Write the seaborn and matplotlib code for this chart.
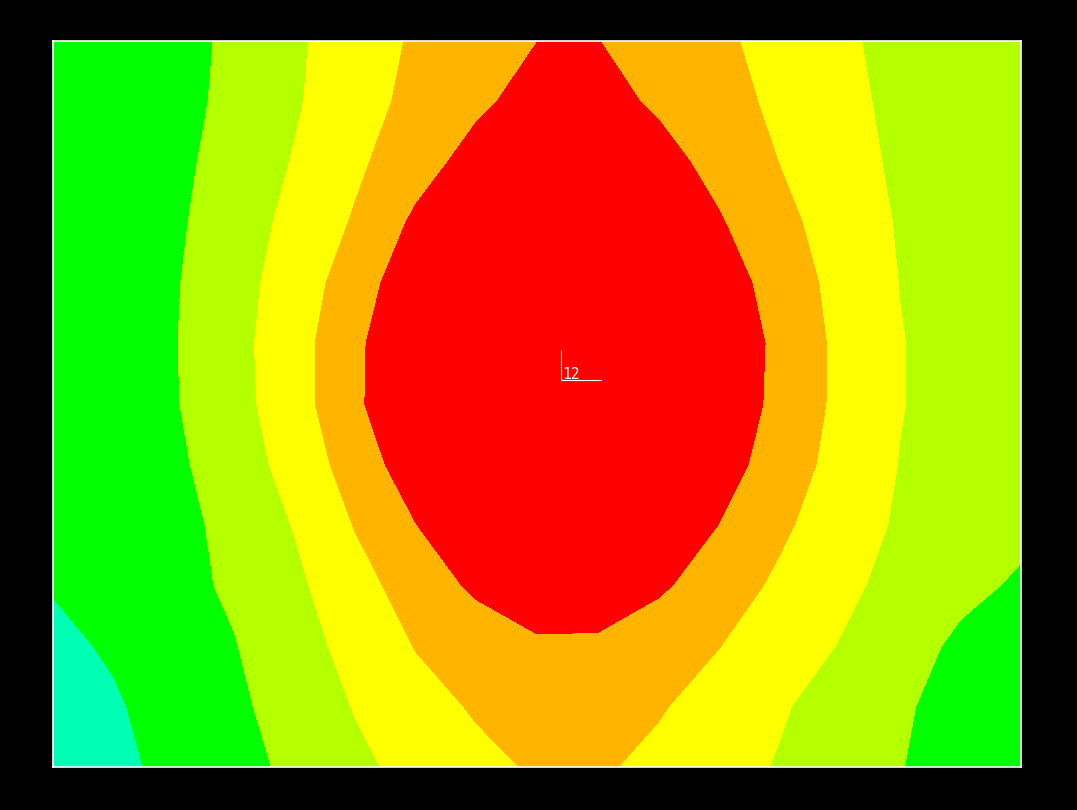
import numpy as np
import matplotlib
matplotlib.use("Agg")
import matplotlib.pyplot as plt
import seaborn as sns

# field values on a 17 x 13 grid (row 0 = top edge)
row_00 = [1.30, 1.45, 1.60, 2.22, 2.85, 3.52, 4.12, 4.52, 4.99, 5.02, 4.54, 4.17, 3.68, 3.12, 2.79, 2.52, 2.25]
row_01 = [1.30, 1.48, 1.65, 2.27, 2.90, 3.61, 4.26, 4.81, 5.37, 5.35, 4.85, 4.35, 3.81, 3.22, 2.81, 2.52, 2.22]
row_02 = [1.30, 1.52, 1.75, 2.40, 3.06, 3.82, 4.59, 5.37, 6.14, 6.05, 5.36, 4.68, 3.99, 3.35, 2.85, 2.53, 2.20]
row_03 = [1.30, 1.56, 1.84, 2.53, 3.27, 4.10, 5.18, 6.26, 7.00, 6.70, 5.89, 5.09, 4.28, 3.55, 2.92, 2.56, 2.20]
row_04 = [1.30, 1.60, 1.92, 2.64, 3.47, 4.50, 5.69, 6.87, 7.00, 7.00, 6.49, 5.53, 4.57, 3.70, 2.98, 2.59, 2.20]
row_05 = [1.30, 1.62, 1.95, 2.70, 3.61, 4.78, 6.04, 7.00, 7.00, 7.00, 6.84, 5.80, 4.76, 3.79, 3.04, 2.61, 2.20]
row_06 = [1.30, 1.61, 1.93, 2.66, 3.59, 4.80, 6.09, 7.00, 7.00, 7.00, 6.75, 5.74, 4.73, 3.79, 3.04, 2.61, 2.20]
row_07 = [1.28, 1.55, 1.81, 2.52, 3.36, 4.46, 5.56, 6.66, 7.00, 7.00, 6.41, 5.46, 4.52, 3.67, 2.97, 2.59, 2.20]
row_08 = [1.20, 1.43, 1.64, 2.34, 3.05, 4.05, 4.98, 5.92, 6.85, 6.63, 5.81, 4.99, 4.18, 3.47, 2.88, 2.49, 2.20]
row_09 = [1.05, 1.39, 1.73, 2.14, 2.81, 3.64, 4.44, 5.18, 5.91, 5.83, 5.16, 4.48, 3.83, 3.23, 2.70, 2.23, 1.88]
row_10 = [0.80, 1.10, 1.53, 1.96, 2.61, 3.32, 4.04, 4.41, 4.77, 4.76, 4.39, 4.02, 3.50, 2.96, 2.39, 1.82, 1.21]
row_11 = [0.43, 0.90, 1.36, 1.82, 2.40, 3.05, 3.63, 4.10, 4.37, 4.35, 4.08, 3.62, 3.10, 2.61, 2.14, 1.60, 1.20]
row_12 = [0.32, 0.78, 1.23, 1.69, 2.20, 2.80, 3.29, 3.74, 4.11, 4.12, 3.77, 3.36, 2.93, 2.49, 2.04, 1.50, 1.15]

levels = [0, 1, 2, 3, 4, 5, 7.5]
band_colors = ["#00ffb4", "#00ff00", "#b4ff00", "#ffff00", "#ffb400", "#ff0000"]
label_text = "12"

z = np.array([row_00, row_01, row_02, row_03, row_04, row_05, row_06,
              row_07, row_08, row_09, row_10, row_11, row_12])
x = np.arange(z.shape[1])
y = np.arange(z.shape[0])

sns.set_style("dark", {"axes.facecolor": "black", "figure.facecolor": "black"})

fig = plt.figure(figsize=(10.77, 8.1), dpi=100)
ax = fig.add_axes([53 / 1077, 43 / 810, 968 / 1077, 726 / 810])
ax.contourf(x, y, z, levels=levels, colors=band_colors, antialiased=False)
ax.set_xlim(x[0], x[-1])
ax.set_ylim(y[-1], y[0])
ax.set_xticks([])
ax.set_yticks([])
for s in ax.spines.values():
    s.set_visible(True)
    s.set_color("white")
    s.set_linewidth(1.2)

# small axis marker in the middle
ax.plot([0.5248, 0.5248], [0.533, 0.574], color="#ffff00", lw=0.8, transform=ax.transAxes)
ax.plot([0.5248, 0.566], [0.533, 0.533], color="white", lw=0.8, transform=ax.transAxes)
ax.text(0.5258, 0.5345, label_text, color="white", fontsize=10.5, family="DejaVu Sans Mono",
        ha="left", va="baseline", transform=ax.transAxes)

fig.savefig("out.png", dpi=100, facecolor="black")
